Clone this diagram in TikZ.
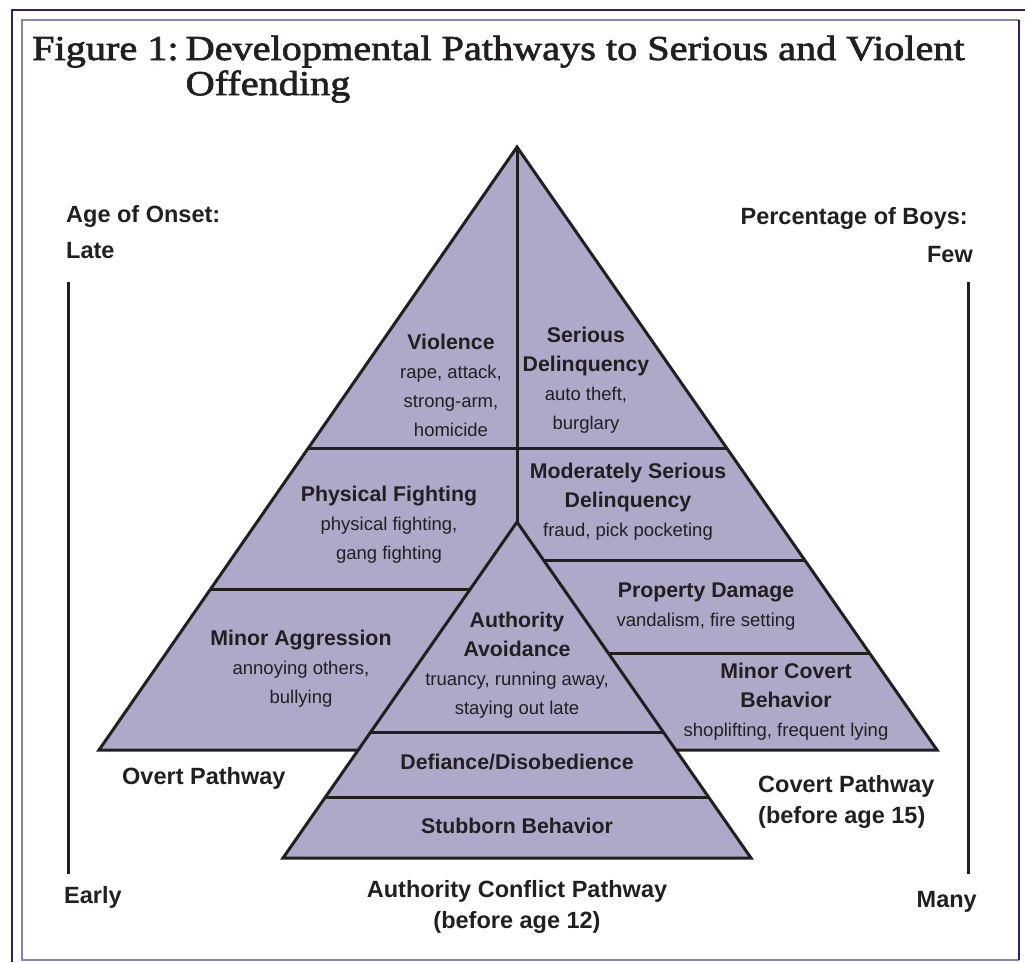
\documentclass[tikz,border=0pt]{standalone}
\usepackage{fontspec}
\setmainfont{Liberation Serif}
\setsansfont{Liberation Sans}
\newfontfamily\titlefont[FakeStretch=1.15, FakeBold=2]{Liberation Serif}
\usetikzlibrary{positioning}

\definecolor{pyrfill}{RGB}{174,168,201}
\definecolor{pyrline}{RGB}{35,31,32}
\definecolor{framedark}{RGB}{45,32,110}
\definecolor{framelight}{RGB}{140,130,185}

\tikzset{
  band/.style={draw=pyrline, line width=3pt, line join=miter},
  axisline/.style={draw=pyrline, line width=3pt},
  lvl/.style={font=\sffamily\fontsize{18.5}{29}\selectfont, align=center, inner sep=0pt, text=pyrline},
  side/.style={font=\sffamily\bfseries\fontsize{23.5}{31.5}\selectfont, inner sep=0pt, text=pyrline},
}
\newcommand{\lvlhead}[1]{{\bfseries\fontsize{21.3}{29}\selectfont #1}}

\begin{document}
\begin{tikzpicture}[x=1pt, y=-1pt]
  \useasboundingbox (0,0) rectangle (1025,962);

  % frame
  \draw[framedark, line width=1.5pt] (12,962) -- (12,10) -- (1025,10);
  \draw[framelight, line width=1.5pt] (1019,960) -- (22,960) -- (22,20) -- (1019,20);
  \draw[framedark, line width=1.5pt] (1019,20) -- (1019,960);

  % title
  \node[anchor=base west, inner sep=0pt, text=pyrline] (title) at (32,60)
    {\titlefont\fontsize{35}{35}\selectfont
     \begin{tabular}[t]{@{}l@{\hspace{0.2em}}l@{}}
       Figure 1: & Developmental Pathways to Serious and Violent\\
                 & Offending
     \end{tabular}};

  % pyramid outline
  \coordinate (apex) at (517,147);
  \coordinate (ovl) at (99,750);
  \coordinate (ovr) at (358.2,750);
  \coordinate (acl) at (283,858);
  \coordinate (acr) at (751,858);
  \coordinate (cvl) at (675.8,750);
  \coordinate (cvr) at (937,750);
  \coordinate (acapex) at (517,522);

  \filldraw[band, fill=pyrfill] (apex) -- (ovl) -- (ovr) -- (acl) -- (acr) -- (cvl) -- (cvr) -- cycle;
  \draw[band] (apex) -- (acapex);
  \draw[band] (ovr) -- (acapex) -- (cvl);

  % level separators
  \draw[band] (308.3,448) -- (726.7,448);
  \draw[band] (210.6,589) -- (470.3,589);
  \draw[band] (543.5,560) -- (804.7,560);
  \draw[band] (608.2,653) -- (869.4,653);
  \draw[band] (370.75,732) -- (663.25,732);
  \draw[band] (325.5,797) -- (708.5,797);

  % levels
  \node[lvl] (violence) at (451,385) {\lvlhead{Violence}\\rape, attack,\\strong-arm,\\homicide};
  \node[lvl] (serious) at (586,380) {\lvlhead{Serious}\\\lvlhead{Delinquency}\\auto theft,\\burglary};
  \node[lvl] (physical) at (389,525) {\lvlhead{Physical Fighting}\\physical fighting,\\gang fighting};
  \node[lvl] (modserious) at (628,502) {\lvlhead{Moderately Serious}\\\lvlhead{Delinquency}\\fraud, pick pocketing};
  \node[lvl] (property) at (706,607) {\lvlhead{Property Damage}\\vandalism, fire setting};
  \node[lvl] (minorcovert) at (786,702) {\lvlhead{Minor Covert}\\\lvlhead{Behavior}\\shoplifting, frequent lying};
  \node[lvl] (minoraggr) at (301,669) {\lvlhead{Minor Aggression}\\annoying others,\\bullying};
  \node[lvl] (avoidance) at (517,665) {\lvlhead{Authority}\\\lvlhead{Avoidance}\\truancy, running away,\\staying out late};
  \node[lvl, anchor=base] (defiance) at (517,769) {\lvlhead{Defiance/Disobedience}};
  \node[lvl, anchor=base] (stubborn) at (517,833) {\lvlhead{Stubborn Behavior}};

  % pathways
  \node[side, anchor=base west] (overt) at (122,784) {Overt Pathway};
  \node[side, align=left, anchor=west] (covert) at (758,802) {Covert Pathway\\(before age 15)};
  \node[side, align=center] (conflict) at (517,907) {Authority Conflict Pathway\\(before age 12)};

  % side scales
  \node[side, anchor=base west] (onset) at (66,222) {Age of Onset:};
  \node[side, anchor=base west] (late) at (66,258) {Late};
  \node[side, anchor=base west] (early) at (64,903) {Early};
  \node[side, anchor=base east] (boys) at (968,224) {Percentage of Boys:};
  \node[side, anchor=base east] (few) at (973,262) {Few};
  \node[side, anchor=base east] (many) at (977,907) {Many};

  \coordinate (ltop) at (68,282);
  \coordinate (lbot) at (68,874);
  \coordinate (rtop) at (968,282);
  \coordinate (rbot) at (968,874);
  \draw[axisline] (ltop) -- (lbot);
  \draw[axisline] (rtop) -- (rbot);
\end{tikzpicture}
\end{document}
